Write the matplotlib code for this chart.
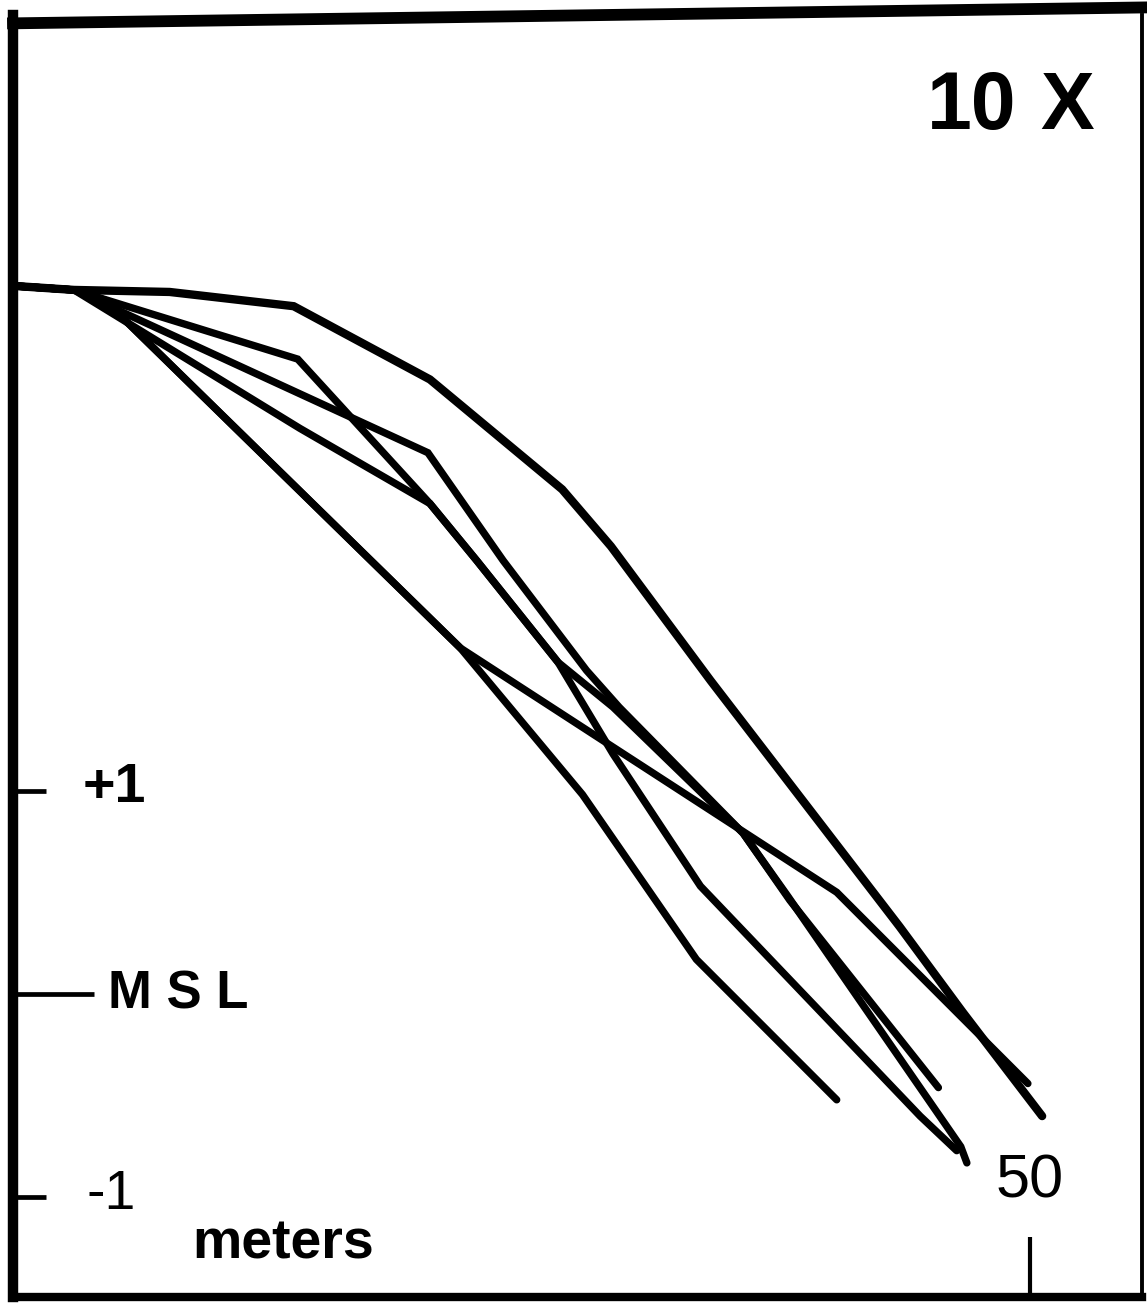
import matplotlib
matplotlib.use("Agg")  # no display
import matplotlib.pyplot as plt
from matplotlib.lines import Line2D

# Beach profiles: distance from the benchmark (m) vs elevation above MSL (m)
prof1_x = [0, 3.0, 7.7, 13.8, 20.5, 27.0, 29.4, 34.3, 43.6, 46.7, 50.6]
prof1_y = [3.48, 3.46, 3.45, 3.38, 3.02, 2.48, 2.20, 1.54, 0.33, -0.09, -0.60]

prof2_x = [0, 3.0, 14.0, 20.5, 22.8, 26.8, 29.5, 33.8, 44.6, 46.4]
prof2_y = [3.48, 3.46, 3.12, 2.41, 2.13, 1.63, 1.18, 0.53, -0.60, -0.77]

prof3_x = [0, 3.0, 20.4, 24.1, 28.2, 29.8, 35.9, 38.2, 45.5]
prof3_y = [3.48, 3.46, 2.66, 2.13, 1.59, 1.41, 0.79, 0.46, -0.46]

prof4_x = [0, 3.0, 14.1, 20.5, 22.8, 26.8, 29.5, 35.9, 38.1, 46.6, 46.9]
prof4_y = [3.48, 3.46, 2.78, 2.41, 2.13, 1.63, 1.41, 0.79, 0.48, -0.75, -0.83]

prof5_x = [0, 3.0, 4.5, 22.0, 40.5, 49.9]
prof5_y = [3.48, 3.46, 3.41, 1.70, 0.50, -0.44]

prof6_x = [0, 3.0, 4.5, 22.0, 28.0, 33.6, 40.5]
prof6_y = [3.48, 3.46, 3.41, 1.70, 0.98, 0.17, -0.52]

elev_ticks = [1, 0, -1]
elev_labels = ["+1", "MSL", "-1"]
dist_ticks = [50]
dist_labels = ["50"]

profiles = [
    (prof1_x, prof1_y, 6.0),
    (prof2_x, prof2_y, 5.3),
    (prof3_x, prof3_y, 5.3),
    (prof4_x, prof4_y, 5.3),
    (prof5_x, prof5_y, 5.3),
    (prof6_x, prof6_y, 5.3),
]

REG = ["Liberation Sans", "DejaVu Sans"]

fig = plt.figure(figsize=(11.47, 13.07), dpi=100)
ax = fig.add_axes([0.01133, 0.00765, 0.98431, 0.98087])

for xs, ys, lw in profiles:
    ax.plot(xs, ys, color="black", linewidth=lw,
            solid_capstyle="round", solid_joinstyle="miter")

ax.set_xlim(0, 55.51)
ax.set_ylim(-1.489, 4.811)

# frame
ax.spines["top"].set_visible(False)
ax.spines["left"].set_linewidth(7.5)
ax.spines["bottom"].set_linewidth(6.0)
ax.spines["right"].set_linewidth(2.8)
for s in ax.spines.values():
    s.set_capstyle("projecting")
# top edge of the frame runs slightly uphill to the right
ax.add_line(Line2D([0, 1.01], [0.9935, 1.0060], transform=ax.transAxes,
                   color="black", linewidth=8.5, clip_on=False,
                   solid_capstyle="projecting"))

# ticks: short for +/-1, long for MSL, one distance tick at 50 m
ax.set_yticks([t for t in elev_ticks if t != 0])
ax.set_yticks([0], minor=True)
ax.tick_params(axis="y", which="major", direction="in", length=24, width=3.4,
               labelleft=False)
ax.tick_params(axis="y", which="minor", direction="in", length=58, width=3.4,
               labelleft=False)
ax.set_xticks(dist_ticks)
ax.tick_params(axis="x", which="major", direction="in", length=43, width=3.0,
               labelbottom=False)

ytr = ax.get_yaxis_transform()
xtr = ax.get_xaxis_transform()
for val, lab in zip(elev_ticks, elev_labels):
    if lab == "MSL":
        ax.text(0.0841, val, "M S L", transform=ytr, ha="left", va="center",
                fontsize=38, fontweight="bold", family=REG)
    elif lab.startswith("+"):
        ax.text(0.0620, val + 0.01, lab, transform=ytr, ha="left",
                va="center", fontsize=40, fontweight="bold", family=REG)
    else:
        ax.text(0.0650, val + 0.01, lab, transform=ytr, ha="left",
                va="center", fontsize=40, family=REG)

for val, lab in zip(dist_ticks, dist_labels):
    ax.text(val, 0.0897, lab, transform=xtr, ha="center", va="center",
            fontsize=44, family=REG)

ax.text(0.1586, 0.0304, "meters", transform=ax.transAxes, ha="left",
        va="baseline", fontsize=40, fontweight="bold", family=REG)

# vertical exaggeration
ax.text(0.889, 0.9275, "10", transform=ax.transAxes, ha="right",
        va="center", fontsize=58, fontweight="bold", family=REG)
ax.text(0.9097, 0.9275, "X", transform=ax.transAxes, ha="left",
        va="center", fontsize=58, fontweight="bold", family=REG)

fig.savefig("out.png", dpi=100, facecolor="white")
plt.close(fig)
